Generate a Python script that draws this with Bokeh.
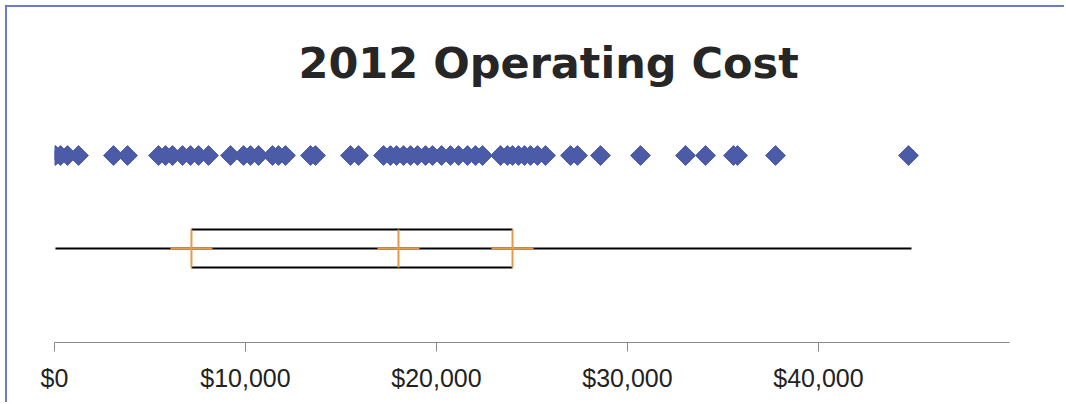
import math
from bokeh.plotting import figure
from bokeh.models import ColumnDataSource, Range1d, FixedTicker, NumeralTickFormatter
from bokeh.embed import file_html
from bokeh.resources import INLINE

# ---- data ----
title_text = "2012 Operating Cost"
costs = [50, 314, 680, 1257, 3089, 3822, 5445, 5812, 6178, 6702, 7121, 7540, 8063,
         9215, 9896, 10262, 10681, 11414, 11728, 12094, 13403, 13665, 15497, 15916,
         17226, 17592, 17906, 18274, 18640, 19007, 19425, 19791, 20262, 20733, 21152,
         21623, 22042, 22408, 23351, 23717, 23979, 24293, 24607, 24921, 25288, 25707,
         27016, 27382, 28586, 30681, 33037, 34085, 35551, 35760, 37749, 44712]
box_min = 50
box_q1 = 7170
box_median = 18010
box_q3 = 23980
box_max = 44870
tick_values = [0, 10000, 20000, 30000, 40000]

# ---- layout constants ----
ROW_POINTS = 187
ROW_BOX = 94
BOX_HALF = 19
CROSS_HALF = 1100
BLUE = "#4b5ba8"
ORANGE = "#e39a4a"

p = figure(width=1059, height=397, output_backend="svg", toolbar_location=None,
           x_range=Range1d(0, 50000), y_range=Range1d(0, 242),
           min_border_left=47, min_border_right=57, min_border_top=93, min_border_bottom=62)
p.styles = {"border-top": "2px solid #6b7cc4", "border-left": "2px solid #6b7cc4",
            "margin-top": "5px", "margin-left": "5px"}
p.outline_line_color = None
p.grid.visible = False
p.yaxis.visible = False

p.title.text = title_text
p.title.align = "left"
p.title.text_font = "DejaVu Sans"
p.title.text_font_style = "bold"
p.title.text_font_size = "43px"
p.title.text_color = "#262626"
p.title.offset = 244
p.title.standoff = 25

ax = p.xaxis[0]
ax.ticker = FixedTicker(ticks=tick_values)
ax.formatter = NumeralTickFormatter(format="$0,0")
ax.major_tick_in = 0
ax.major_tick_out = 9
ax.minor_tick_line_color = None
ax.axis_line_color = "#8a8a8a"
ax.major_tick_line_color = "#8a8a8a"
ax.major_label_text_font = "Liberation Sans"
ax.major_label_text_font_size = "25px"
ax.major_label_text_color = "#222222"
ax.major_label_standoff = 12

# points
src = ColumnDataSource(dict(x=costs, y=[ROW_POINTS] * len(costs)))
p.scatter("x", "y", source=src, marker="square", size=14, angle=math.pi / 4,
          fill_color=BLUE, line_color=BLUE, line_width=1)

# whisker line
p.segment(x0=[box_min], x1=[box_max], y0=[ROW_BOX], y1=[ROW_BOX], line_color="black", line_width=2)
# box top / bottom
p.segment(x0=[box_q1, box_q1], x1=[box_q3, box_q3],
          y0=[ROW_BOX + BOX_HALF, ROW_BOX - BOX_HALF], y1=[ROW_BOX + BOX_HALF, ROW_BOX - BOX_HALF],
          line_color="black", line_width=2)
stats = [box_q1, box_median, box_q3]
# orange verticals
p.segment(x0=stats, x1=stats, y0=[ROW_BOX - BOX_HALF] * 3, y1=[ROW_BOX + BOX_HALF] * 3,
          line_color=ORANGE, line_width=2)
# orange horizontal crosses
p.segment(x0=[s - CROSS_HALF for s in stats], x1=[s + CROSS_HALF for s in stats],
          y0=[ROW_BOX] * 3, y1=[ROW_BOX] * 3, line_color=ORANGE, line_width=2)

open("out.html", "w").write(file_html(p, INLINE))
